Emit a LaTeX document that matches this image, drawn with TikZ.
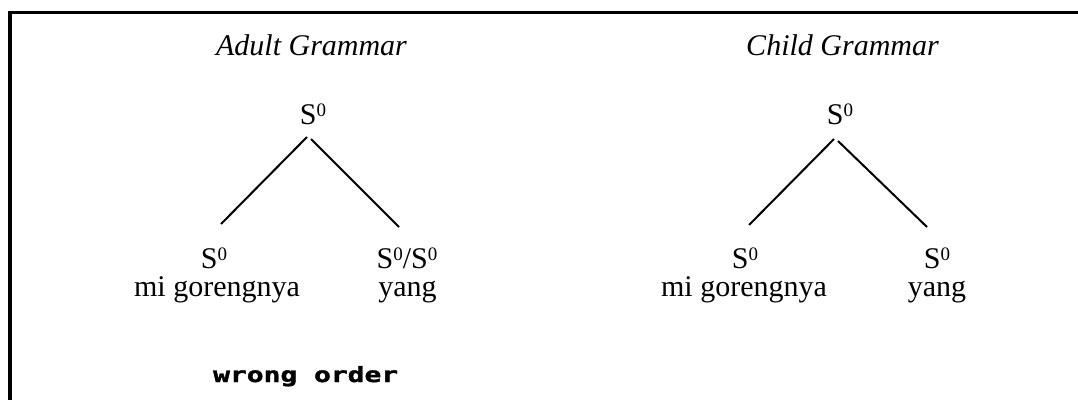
\documentclass[tikz,border=0pt]{standalone}
\usepackage{fontspec}
\setmainfont{Liberation Serif}
\newfontfamily\pixfont[FakeBold=1.5]{DejaVu Sans Mono Bold}
\newcommand\supz{\raisebox{7.5pt}{\fontsize{19}{19}\selectfont 0}}
\begin{document}
\begin{tikzpicture}[x=1pt,y=-1pt,
  lbl/.style={inner sep=0pt, anchor=base, font=\fontsize{30}{30}\selectfont},
  ttl/.style={inner sep=0pt, anchor=base, font=\fontsize{30}{30}\selectfont\itshape},
  branch/.style={line width=2pt},
  framestyle/.style={line width=3.5pt, line join=miter}]
\useasboundingbox (0,0) rectangle (1078,399);
% frame
\draw[framestyle] (10,400) -- (10,12.5) -- (1079,12.5);
% titles
\node[ttl] (t1) at (311.5,55) {Adult Grammar};
\node[ttl] (t2) at (842.5,55) {Child Grammar};
% adult tree
\node[lbl] (r1) at (313,124) {S\supz};
\node[lbl] (l1) at (214,268) {S\supz};
\node[lbl] (l1w) at (217,296) {mi gorengnya};
\node[lbl] (m1) at (407,268) {S\supz/S\supz};
\node[lbl] (m1w) at (407.5,296) {yang};
\coordinate (r1a) at (307,137);
\coordinate (r1b) at (311,139);
\coordinate (l1t) at (221,224);
\coordinate (m1t) at (399,227);
\draw[branch] (r1a) -- (l1t);
\draw[branch] (r1b) -- (m1t);
% child tree
\node[lbl] (r2) at (840,124) {S\supz};
\node[lbl] (l2) at (745,268) {S\supz};
\node[lbl] (l2w) at (744,296) {mi gorengnya};
\node[lbl] (m2) at (937,268) {S\supz};
\node[lbl] (m2w) at (937,296) {yang};
\coordinate (r2a) at (834,139);
\coordinate (r2b) at (838,141);
\coordinate (l2t) at (749,225);
\coordinate (m2t) at (927,227);
\draw[branch] (r2a) -- (l2t);
\draw[branch] (r2b) -- (m2t);
% note
\node[inner sep=0pt, anchor=base west, font=\pixfont\fontsize{21}{21}\selectfont] (wo) at (213,382) {\scalebox{1.33}[1]{wrong order}};
\end{tikzpicture}
\end{document}
